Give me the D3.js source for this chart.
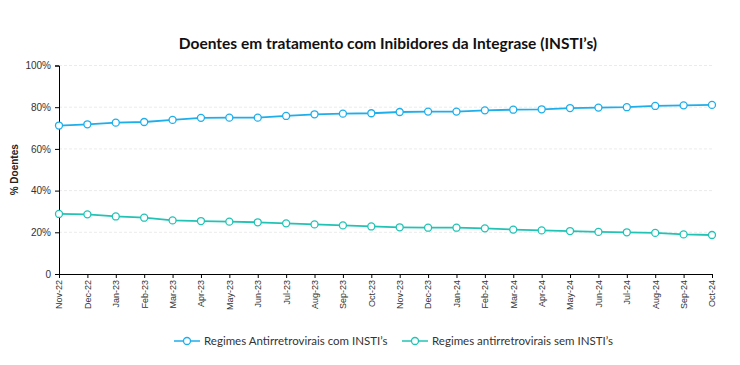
<!DOCTYPE html>
<html>
<head>
<meta charset="utf-8">
<script src="https://cdn.jsdelivr.net/npm/d3@7"></script>
<style>
  body { margin: 0; background: #fff; }
  svg { display: block; }
  .grid line { stroke: #ebebeb; stroke-dasharray: 3,2; }
  .axis text { font-family: "Liberation Sans", Arial, sans-serif; fill: #333; }
</style>
</head>
<body>
<div id="chart"></div>
<script>
// months on the x axis
var months = ["Nov-22","Dec-22","Jan-23","Feb-23","Mar-23","Apr-23","May-23","Jun-23","Jul-23","Aug-23","Sep-23","Oct-23",
              "Nov-23","Dec-23","Jan-24","Feb-24","Mar-24","Apr-24","May-24","Jun-24","Jul-24","Aug-24","Sep-24","Oct-24"];

// % of patients
var comInsti = [71.2, 71.8, 72.6, 72.9, 73.9, 74.9, 75.0, 75.0, 75.8, 76.6, 76.9, 77.1,
                77.7, 77.9, 77.9, 78.5, 78.8, 79.0, 79.6, 79.8, 80.0, 80.6, 80.9, 81.1];
var semInsti = [28.8, 28.6, 27.6, 27.0, 25.7, 25.4, 25.1, 24.8, 24.3, 23.8, 23.3, 22.8,
                22.4, 22.2, 22.2, 21.9, 21.3, 20.9, 20.6, 20.2, 20.0, 19.7, 19.0, 18.7];

var yTicks = [0, 20, 40, 60, 80, 100];
var seriesNames = ["Regimes Antirretrovirais com INSTI\u2019s", "Regimes antirretrovirais sem INSTI\u2019s"];
var colors = ["#1eaeea", "#22c3b5"];

var width = 740, height = 365;
var margin = {top: 65.5, right: 28, bottom: 91, left: 59};

var svg = d3.select('#chart').append('svg')
    .attr('width', width)
    .attr('height', height);

var g = svg.append('g')
    .attr('transform', 'translate(' + margin.left + ',' + margin.top + ')');

var w = width - margin.left - margin.right;
var h = height - margin.top - margin.bottom;

var x = d3.scalePoint().domain(months).range([0, w]);
var y = d3.scaleLinear().domain([0, 100]).range([h, 0]);

// title
svg.append('text')
    .attr('x', 388)
    .attr('y', 49)
    .attr('text-anchor', 'middle')
    .style('font-family', 'Lato, "Open Sans", sans-serif')
    .style('font-weight', 'bold')
    .style('font-size', '15.5px')
    .style('fill', '#111')
    .text('Doentes em tratamento com Inibidores da Integrase (INSTI\u2019s)');

// gridlines
g.append('g')
    .attr('class', 'grid')
    .selectAll('line')
    .data(yTicks.filter(function(d) { return d > 0; }))
    .enter().append('line')
    .attr('x1', 0).attr('x2', w)
    .attr('y1', function(d) { return y(d); })
    .attr('y2', function(d) { return y(d); });

// y axis
var yAxis = d3.axisLeft(y)
    .tickValues(yTicks)
    .tickSize(4)
    .tickFormat(function(d) { return d === 0 ? '0' : d + '%'; });
var gy = g.append('g').attr('class', 'axis').call(yAxis);
gy.select('.domain').attr('stroke', '#000');
gy.selectAll('.tick line').attr('stroke', '#000');
gy.selectAll('text').style('font-size', '10px').attr('x', -8);

// x axis
var xAxis = d3.axisBottom(x).tickSize(4);
var gx = g.append('g')
    .attr('class', 'axis')
    .attr('transform', 'translate(0,' + h + ')')
    .call(xAxis);
gx.select('.domain').attr('stroke', '#000');
gx.selectAll('.tick line').attr('stroke', '#000');
gx.selectAll('text')
    .style('font-size', '9px')
    .attr('transform', 'rotate(-90)')
    .attr('x', -6)
    .attr('y', 0)
    .attr('dy', '0.32em')
    .style('text-anchor', 'end');

// y axis title
g.append('text')
    .attr('transform', 'rotate(-90)')
    .attr('x', -h / 2)
    .attr('y', -41)
    .attr('text-anchor', 'middle')
    .style('font-family', '"Liberation Sans", Arial, sans-serif')
    .style('font-weight', 'bold')
    .style('font-size', '10px')
    .style('fill', '#222')
    .text('% Doentes');

// lines + markers
var line = d3.line()
    .x(function(d, i) { return x(months[i]); })
    .y(function(d) { return y(d); });

[comInsti, semInsti].forEach(function(vals, k) {
    g.append('path')
        .datum(vals)
        .attr('fill', 'none')
        .attr('stroke', colors[k])
        .attr('stroke-width', 1.8)
        .attr('d', line);

    g.selectAll('.pt' + k)
        .data(vals)
        .enter().append('circle')
        .attr('class', 'pt' + k)
        .attr('cx', function(d, i) { return x(months[i]); })
        .attr('cy', function(d) { return y(d); })
        .attr('r', 3.5)
        .attr('fill', '#fff')
        .attr('stroke', colors[k])
        .attr('stroke-width', 1.3);
});

// legend
var legendX = [174, 402];
var legend = svg.append('g');
seriesNames.forEach(function(name, k) {
    var lg = legend.append('g').attr('transform', 'translate(' + legendX[k] + ',341)');
    lg.append('line')
        .attr('x1', 0).attr('x2', 26)
        .attr('stroke', colors[k]).attr('stroke-width', 1.5);
    lg.append('circle')
        .attr('cx', 13).attr('r', 3.5)
        .attr('fill', '#fff')
        .attr('stroke', colors[k]).attr('stroke-width', 1.3);
    lg.append('text')
        .attr('x', 30)
        .attr('dy', '0.35em')
        .style('font-family', 'Lato, "Open Sans", sans-serif')
        .style('font-size', '11.5px')
        .style('fill', '#333')
        .text(name);
});
</script>
</body>
</html>
